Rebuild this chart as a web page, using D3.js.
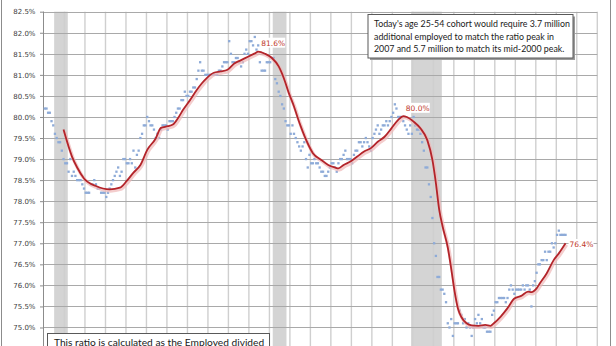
<!DOCTYPE html>
<html>
<head>
<meta charset="utf-8">
<script src="https://cdn.jsdelivr.net/npm/d3@7"></script>
<style>
  body { margin: 0; background: #fff; }
  svg { display: block; }
</style>
</head>
<body>
<svg id="chart" width="616" height="346"></svg>
<script>
// monthly employment-population ratio, age 25-54, from 1990-01
var firstMonth = "1990-01";
var monthlyRatio = [
  80.2, 80.2, 80.1, 80.1, 79.9, 79.8, 79.6, 79.5, 79.4, 79.4, 79.2, 79.0, // 1990
  78.9, 78.9, 78.7, 79.0, 78.6, 78.7, 78.6, 78.5, 78.5, 78.5, 78.4, 78.3, // 1991
  78.2, 78.2, 78.2, 78.4, 78.4, 78.5, 78.4, 78.3, 78.3, 78.2, 78.2, 78.2, // 1992
  78.1, 78.2, 78.3, 78.4, 78.5, 78.6, 78.7, 78.8, 78.6, 78.7, 79.0, 79.0, // 1993
  78.9, 78.9, 79.0, 78.9, 79.2, 78.8, 79.1, 79.2, 79.5, 79.6, 79.8, 79.8, // 1994
  80.0, 79.9, 79.8, 79.8, 79.7, 79.5, 79.6, 79.5, 79.7, 79.8, 79.8, 79.8, // 1995
  79.7, 79.9, 79.9, 79.9, 80.0, 80.1, 80.2, 80.2, 80.4, 80.4, 80.6, 80.5, // 1996
  80.5, 80.6, 80.6, 80.7, 80.7, 80.9, 81.1, 81.3, 81.1, 81.1, 81.0, 81.0, // 1997
  81.0, 81.0, 81.0, 81.0, 81.0, 81.0, 81.1, 81.1, 81.2, 81.3, 81.3, 81.3, // 1998
  81.8, 81.5, 81.3, 81.3, 81.4, 81.4, 81.3, 81.2, 81.3, 81.5, 81.6, 81.5, // 1999
  81.8, 81.8, 81.7, 81.9, 81.6, 81.7, 81.3, 81.1, 81.1, 81.1, 81.3, 81.3, // 2000
  81.3, 81.4, 81.4, 80.9, 80.8, 80.6, 80.5, 80.3, 80.2, 79.9, 79.8, 79.8, // 2001
  79.6, 79.8, 79.6, 79.5, 79.4, 79.3, 79.2, 79.3, 79.4, 79.0, 78.8, 79.1, // 2002
  78.9, 78.9, 79.0, 78.9, 78.9, 78.8, 78.7, 78.7, 78.6, 78.6, 78.7, 78.8, // 2003
  78.9, 78.9, 78.8, 78.7, 78.9, 79.0, 79.0, 79.1, 79.2, 79.0, 79.0, 79.0, // 2004
  78.9, 79.1, 79.2, 79.2, 79.4, 79.4, 79.3, 79.4, 79.5, 79.4, 79.3, 79.2, // 2005
  79.5, 79.6, 79.7, 79.8, 79.6, 79.7, 79.8, 79.8, 79.9, 79.8, 79.9, 80.0, // 2006
  80.1, 80.3, 80.2, 80.0, 80.0, 80.0, 79.9, 79.8, 79.7, 79.6, 79.8, 79.6, // 2007
  80.0, 79.8, 79.7, 79.7, 79.6, 79.4, 79.2, 78.8, 78.8, 78.4, 78.1, 77.6, // 2008
  77.0, 76.7, 76.2, 76.2, 75.9, 75.9, 75.8, 75.6, 75.1, 75.0, 75.2, 74.8, // 2009
  75.1, 75.1, 75.1, 75.4, 75.3, 75.1, 75.2, 75.0, 75.1, 75.0, 74.8, 75.0, // 2010
  75.2, 75.1, 75.3, 75.1, 75.2, 75.0, 75.0, 74.9, 74.9, 74.9, 75.3, 75.4, // 2011
  75.6, 75.6, 75.7, 75.7, 75.7, 75.7, 75.6, 75.7, 75.9, 76.0, 75.9, 75.8, // 2012
  75.9, 75.9, 75.9, 75.9, 76.0, 75.9, 76.0, 76.0, 75.9, 75.5, 76.0, 76.1, // 2013
  76.3, 76.5, 76.5, 76.6, 76.6, 76.8, 76.6, 76.8, 76.8, 77.0, 76.9, 77.0, // 2014
  77.2, 77.3, 77.2, 77.2, 77.2, 77.2                                      // 2015
];

// smoothed (moving average) line
var movingAvg = [
  ["1990-12", 79.70], ["1991-05", 79.06], ["1991-08", 78.80], ["1991-12", 78.54],
  ["1992-07", 78.36], ["1993-03", 78.28], ["1993-09", 78.32], ["1994-01", 78.48],
  ["1994-05", 78.68], ["1994-09", 78.86], ["1995-01", 79.22], ["1995-06", 79.49],
  ["1995-09", 79.74], ["1996-01", 79.78], ["1996-04", 79.82], ["1996-07", 79.97],
  ["1996-10", 80.17], ["1997-02", 80.40], ["1997-06", 80.64], ["1997-09", 80.80],
  ["1997-12", 80.93], ["1998-04", 81.05], ["1998-08", 81.08], ["1998-12", 81.12],
  ["1999-04", 81.27], ["1999-08", 81.35], ["1999-12", 81.43], ["2000-04", 81.51],
  ["2000-06", 81.55], ["2000-10", 81.50], ["2001-02", 81.40], ["2001-06", 81.20],
  ["2001-09", 80.92], ["2001-12", 80.56], ["2002-03", 80.25], ["2002-05", 80.00],
  ["2002-07", 79.77], ["2002-11", 79.37], ["2003-02", 79.14], ["2003-07", 78.98],
  ["2003-11", 78.86], ["2004-03", 78.80], ["2004-05", 78.78], ["2004-08", 78.86],
  ["2004-12", 78.94], ["2005-04", 79.06], ["2005-08", 79.18], ["2005-12", 79.26],
  ["2006-04", 79.41], ["2006-08", 79.53], ["2006-12", 79.73], ["2007-04", 79.93],
  ["2007-07", 80.02], ["2007-09", 80.00], ["2008-01", 79.89], ["2008-05", 79.73],
  ["2008-09", 79.45], ["2008-12", 78.98], ["2009-02", 78.43], ["2009-04", 77.80],
  ["2009-06", 77.40], ["2009-09", 76.90], ["2009-11", 76.40], ["2010-01", 75.85],
  ["2010-03", 75.45], ["2010-05", 75.25], ["2010-08", 75.10], ["2010-11", 75.05],
  ["2011-03", 75.04], ["2011-07", 75.06], ["2011-10", 75.04], ["2011-12", 75.10],
  ["2012-04", 75.26], ["2012-08", 75.46], ["2012-12", 75.69], ["2013-04", 75.75],
  ["2013-08", 75.85], ["2013-10", 75.84], ["2014-01", 75.93], ["2014-03", 76.05],
  ["2014-07", 76.29], ["2014-11", 76.60], ["2015-02", 76.76], ["2015-06", 77.00]
];

var recessions = [["1990-07", "1991-03"], ["2001-03", "2001-11"], ["2007-12", "2009-06"]];

var yTicks = [75.0, 75.5, 76.0, 76.5, 77.0, 77.5, 78.0, 78.5, 79.0, 79.5, 80.0, 80.5, 81.0, 81.5, 82.0, 82.5];

var pointLabels = [["2000-06", 81.55, "81.6%"], ["2007-07", 80.02, "80.0%"], ["2015-06", 77.00, "76.4%"]];

var topNote = [
  "Today's age 25-54  cohort would require 3.7 million",
  "additional employed to match the ratio peak in",
  "2007 and 5.7 million to match its mid-2000 peak."
];
var bottomNote = ["This ratio is calculated as the Employed divided"];

// ---------------------------------------------------------------
var svg = d3.select("#chart");
var parseMonth = d3.timeParse("%Y-%m");
var mid = function(s) { return d3.timeDay.offset(parseMonth(s), 14); };

var x = d3.scaleTime()
    .domain([new Date(1990, 0, 1), new Date(2017, 0, 1)])
    .range([44, 597.3]);
var y = d3.scaleLinear()
    .domain([74.5, 82.5])
    .range([348.55, 11.7]);

var start = parseMonth(firstMonth);
var dots = monthlyRatio.map(function(v, i) {
    return { date: d3.timeDay.offset(d3.timeMonth.offset(start, i), 14), value: v };
});

// outer frame
svg.append("rect")
    .attr("x", 1.5).attr("y", -5).attr("width", 609).attr("height", 360)
    .attr("fill", "none").attr("stroke", "#8c8c8c");

// recession bands
svg.append("g").selectAll("rect")
    .data(recessions)
    .join("rect")
    .attr("x", function(d) { return x(parseMonth(d[0])); })
    .attr("width", function(d) { return x(parseMonth(d[1])) - x(parseMonth(d[0])); })
    .attr("y", y.range()[1])
    .attr("height", y.range()[0] - y.range()[1])
    .attr("fill", "#d4d4d4");

// vertical grid (years)
svg.append("g").selectAll("line")
    .data(x.ticks(d3.timeYear.every(1)).slice(1))
    .join("line")
    .attr("x1", function(d) { return x(d); })
    .attr("x2", function(d) { return x(d); })
    .attr("y1", y.range()[1]).attr("y2", y.range()[0])
    .attr("stroke", "#cfcfcf").attr("stroke-width", 1.4);

// y axis with grid
var axisY = d3.axisLeft(y)
    .tickValues(yTicks)
    .tickSize(4)
    .tickFormat(function(d) { return d.toFixed(1) + "%"; });

var gy = svg.append("g")
    .attr("transform", "translate(44,0)")
    .call(axisY);
gy.select(".domain").attr("stroke", "#8c8c8c").attr("d", "M-0.5," + y.range()[1] + "V" + y.range()[0]);
gy.selectAll(".tick line").attr("stroke", "#8c8c8c");
gy.selectAll(".tick text")
    .attr("x", -8.5)
    .attr("fill", "#404040")
    .style("font-family", "DejaVu Sans")
    .style("font-size", "7px");

svg.append("g").selectAll("line")
    .data(yTicks)
    .join("line")
    .attr("x1", 44).attr("x2", x.range()[1])
    .attr("y1", function(d) { return Math.round(y(d)) + 0.5; })
    .attr("y2", function(d) { return Math.round(y(d)) + 0.5; })
    .attr("stroke", "#a9a9a9");

// monthly dots
svg.append("g").selectAll("rect")
    .data(dots)
    .join("rect")
    .attr("x", function(d) { return x(d.date) - 1.15; })
    .attr("y", function(d) { return y(d.value) - 1.15; })
    .attr("width", 2.3).attr("height", 2.3)
    .attr("fill", "#8eabd8");

// smoothed line with soft shadow
var line = d3.line()
    .x(function(d) { return x(mid(d[0])); })
    .y(function(d) { return y(d[1]); })
    .curve(d3.curveMonotoneX);

svg.append("path")
    .datum(movingAvg)
    .attr("d", line)
    .attr("transform", "translate(1,1.5)")
    .attr("fill", "none")
    .attr("stroke", "#f0b8b8")
    .attr("stroke-width", 3.5)
    .attr("opacity", 0.7);

svg.append("path")
    .datum(movingAvg)
    .attr("d", line)
    .attr("fill", "none")
    .attr("stroke", "#b3242a")
    .attr("stroke-width", 1.8);

// value labels
var offsets = [[2, -9], [1.5, -8.3], [3, 0.7]];
var lbl = svg.append("g").selectAll("g")
    .data(pointLabels)
    .join("g")
    .attr("transform", function(d, i) {
        return "translate(" + (x(mid(d[0])) + offsets[i][0]) + "," + (y(d[1]) + offsets[i][1]) + ")";
    });
lbl.append("rect")
    .attr("x", 0).attr("y", -5).attr("width", 25).attr("height", 10)
    .attr("fill", "#fff");
lbl.append("text")
    .attr("x", 1).attr("y", 3)
    .attr("fill", "#c0392b")
    .style("font-family", "DejaVu Sans")
    .style("font-size", "7.5px")
    .text(function(d) { return d[2]; });

// notes
var noteTop = svg.append("g").attr("transform", "translate(368,14.5)");
noteTop.append("rect").attr("x", 2).attr("y", 2).attr("width", 205).attr("height", 43.5).attr("fill", "#9a9a9a");
noteTop.append("rect").attr("width", 205).attr("height", 43.5).attr("fill", "#fff").attr("stroke", "#595959");
noteTop.append("g")
    .attr("transform", "translate(6,0) scale(0.94,1)")
    .selectAll("text")
    .data(topNote)
    .join("text")
    .attr("x", 0).attr("y", function(d, i) { return 13 + i * 12.3; })
    .attr("fill", "#1a1a1a")
    .style("font-family", "Lato")
    .style("font-size", "9.4px")
    .text(function(d) { return d; });

var noteBottom = svg.append("g").attr("transform", "translate(47.5,333.5)");
noteBottom.append("rect").attr("width", 222).attr("height", 30).attr("fill", "#fff").attr("stroke", "#595959");
noteBottom.selectAll("text")
    .data(bottomNote)
    .join("text")
    .attr("x", 6.5).attr("y", 12)
    .attr("fill", "#1a1a1a")
    .style("font-family", "Lato")
    .style("font-size", "10.2px")
    .text(function(d) { return d; });
</script>
</body>
</html>
